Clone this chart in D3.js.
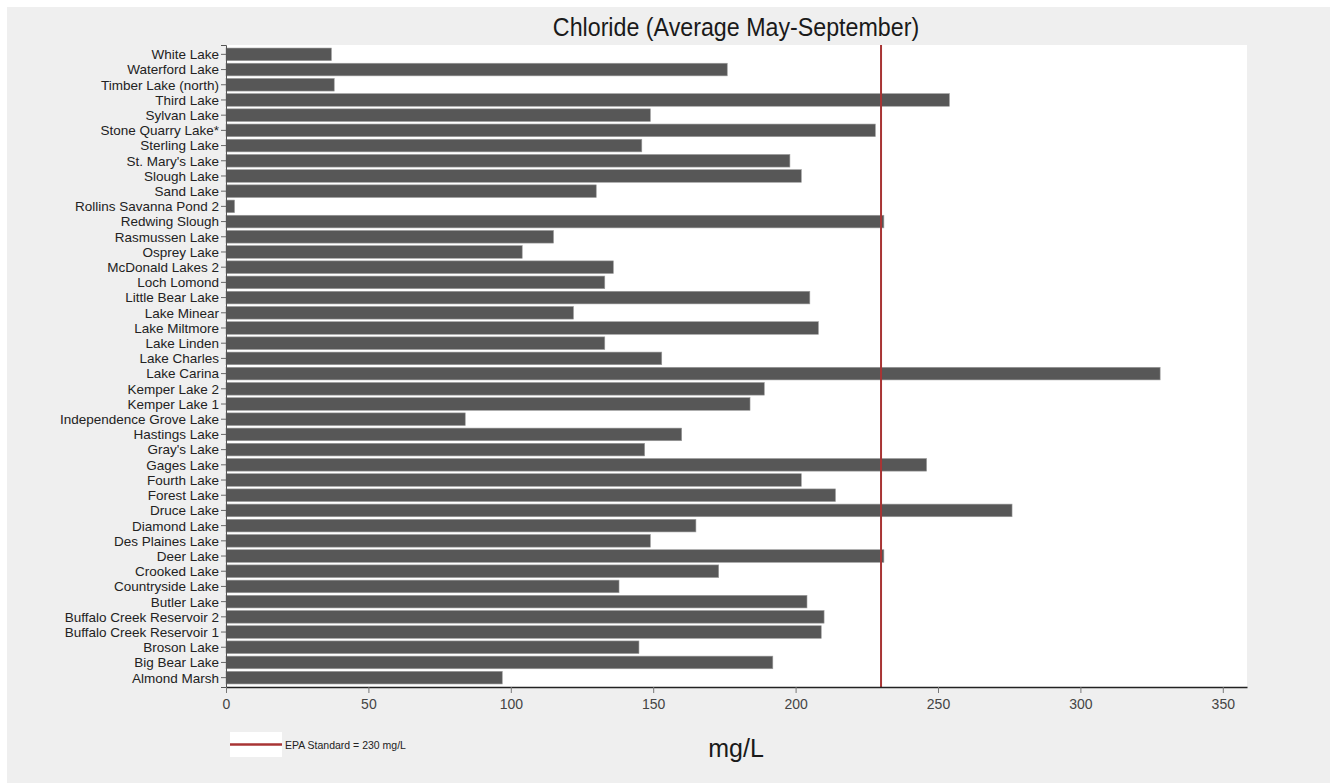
<!DOCTYPE html>
<html>
<head>
<meta charset="utf-8">
<script src="https://cdn.jsdelivr.net/npm/d3@7"></script>
<style>
  html, body { margin: 0; padding: 0; background: #ffffff; }
  svg { display: block; }
</style>
</head>
<body>
<svg id="chart" width="1330" height="783"></svg>
<script>
// Lakes, top to bottom as listed on the chart
const lakes = [
  "White Lake", "Waterford Lake", "Timber Lake (north)", "Third Lake", "Sylvan Lake",
  "Stone Quarry Lake*", "Sterling Lake", "St. Mary's Lake", "Slough Lake", "Sand Lake",
  "Rollins Savanna Pond 2", "Redwing Slough", "Rasmussen Lake", "Osprey Lake", "McDonald Lakes 2",
  "Loch Lomond", "Little Bear Lake", "Lake Minear", "Lake Miltmore", "Lake Linden",
  "Lake Charles", "Lake Carina", "Kemper Lake 2", "Kemper Lake 1", "Independence Grove Lake",
  "Hastings Lake", "Gray's Lake", "Gages Lake", "Fourth Lake", "Forest Lake",
  "Druce Lake", "Diamond Lake", "Des Plaines Lake", "Deer Lake", "Crooked Lake",
  "Countryside Lake", "Butler Lake", "Buffalo Creek Reservoir 2", "Buffalo Creek Reservoir 1", "Broson Lake",
  "Big Bear Lake", "Almond Marsh"
];

// Average chloride, May-September (mg/L)
const chloride = [
  37, 176, 38, 254, 149,
  228, 146, 198, 202, 130,
  3, 231, 115, 104, 136,
  133, 205, 122, 208, 133,
  153, 328, 189, 184, 84,
  160, 147, 246, 202, 214,
  276, 165, 149, 231, 173,
  138, 204, 210, 209, 145,
  192, 97
];

const xTicks = [0, 50, 100, 150, 200, 250, 300, 350];
const epaStandard = 230;
const titleText = "Chloride (Average May-September)";
const axisTitle = "mg/L";
const legendText = "EPA Standard = 230 mg/L";

const rows = lakes.map((name, i) => ({ name, value: chloride[i] }));

const svg = d3.select("#chart");
const sans = "'Liberation Sans', Arial, sans-serif";

// page panel
svg.append("rect")
  .attr("x", 7).attr("y", 7).attr("width", 1323).attr("height", 776)
  .attr("fill", "#efefef");

const plot = { left: 226, right: 1247, top: 45, bottom: 687 };

const x = d3.scaleLinear().domain([0, 358.5]).range([plot.left, plot.right]);
const y = d3.scaleBand().domain(lakes).range([plot.top, plot.bottom])
  .paddingInner(0.17).paddingOuter(0.2);

// plot background
svg.append("rect")
  .attr("x", plot.left).attr("y", plot.top)
  .attr("width", plot.right - plot.left).attr("height", plot.bottom - plot.top)
  .attr("fill", "#ffffff");

// bars
svg.append("g").selectAll("rect").data(rows).join("rect")
  .attr("x", x(0))
  .attr("y", d => y(d.name))
  .attr("width", d => x(d.value) - x(0))
  .attr("height", y.bandwidth())
  .attr("fill", "#575757")
  .attr("stroke", "#9c9c9c")
  .attr("stroke-width", 0.6);

// EPA standard reference line
svg.append("line")
  .attr("x1", x(epaStandard)).attr("x2", x(epaStandard))
  .attr("y1", plot.top).attr("y2", plot.bottom)
  .attr("stroke", "#a83434").attr("stroke-width", 2);

// y axis
const yAxis = svg.append("g")
  .attr("transform", `translate(${plot.left},0)`)
  .call(d3.axisLeft(y).tickSize(5).tickPadding(2));
yAxis.select(".domain").attr("stroke", "#555").attr("stroke-width", 1);
yAxis.selectAll(".tick line").attr("stroke", "#666");
yAxis.selectAll(".tick text")
  .attr("font-family", sans).attr("font-size", 13.5).attr("fill", "#222")
  .attr("dy", "0.36em");

// x axis
const xAxis = svg.append("g")
  .attr("transform", `translate(0,${plot.bottom})`)
  .call(d3.axisBottom(x).tickValues(xTicks).tickFormat(d3.format("d")).tickSize(6).tickPadding(6).tickSizeOuter(0));
xAxis.select(".domain").attr("stroke", "#222").attr("stroke-width", 1.5);
xAxis.selectAll(".tick line").attr("stroke", "#777");
xAxis.selectAll(".tick text")
  .attr("font-family", sans).attr("font-size", 14).attr("fill", "#444");

// title
svg.append("g")
  .attr("transform", "translate(736,36) scale(0.93,1)")
  .append("text")
  .attr("text-anchor", "middle")
  .attr("font-family", sans).attr("font-size", 25).attr("fill", "#1a1a1a")
  .text(titleText);

// axis title
svg.append("text")
  .attr("x", 736).attr("y", 757)
  .attr("text-anchor", "middle")
  .attr("font-family", sans).attr("font-size", 25).attr("fill", "#1a1a1a")
  .text(axisTitle);

// legend
const legend = svg.append("g");
legend.append("rect")
  .attr("x", 230).attr("y", 732).attr("width", 52).attr("height", 25)
  .attr("fill", "#ffffff");
legend.append("line")
  .attr("x1", 230).attr("x2", 282).attr("y1", 744.5).attr("y2", 744.5)
  .attr("stroke", "#a83434").attr("stroke-width", 2.5);
legend.append("text")
  .attr("x", 285).attr("y", 748.5)
  .attr("font-family", sans).attr("font-size", 10.5).attr("fill", "#222")
  .text(legendText);
</script>
</body>
</html>
